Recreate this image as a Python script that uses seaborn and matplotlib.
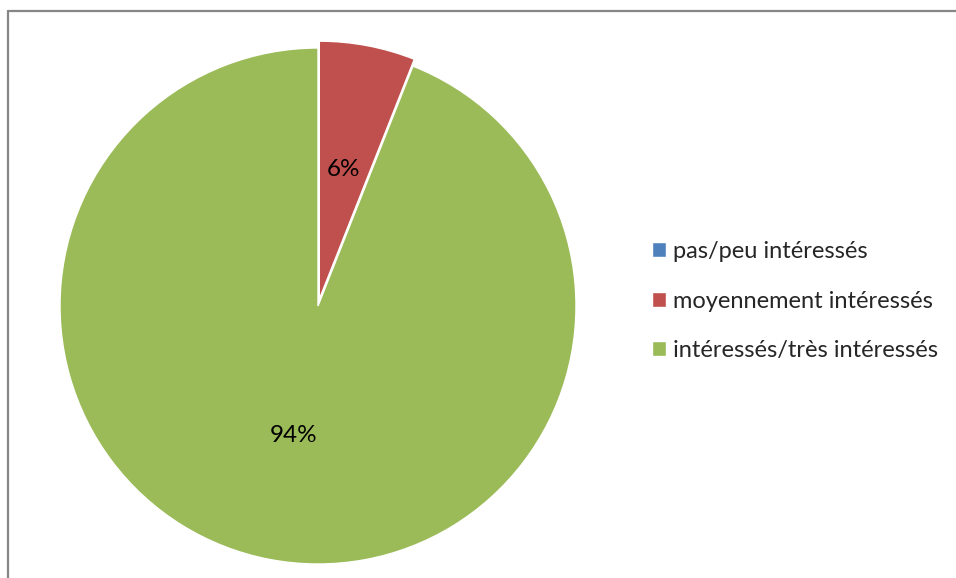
"""Pie chart: interest level of respondents (Excel-style)."""

import matplotlib.pyplot as plt
from matplotlib.lines import Line2D
import seaborn as sns

# ── Data ──────────────────────────────────────────────────────────────────────
CATEGORIES = ["pas/peu intéressés", "moyennement intéressés", "intéressés/très intéressés"]
SHARES = [0, 6, 94]
COLORS = ["#4F81BD", "#C0504D", "#9BBB59"]
EXPLODE = [0, 0.027, 0]

sns.set_theme(style="white")
plt.rcParams["font.family"] = ["Lato", "DejaVu Sans"]

fig = plt.figure(figsize=(9.56, 5.78), dpi=100)

# pie radius 258 px, centred at (318, 306) px from the top-left corner
W, H = 956, 578
cx, cy, r = 318, 306, 258
lim = 1.1
half = r * lim
ax = fig.add_axes([(cx - half) / W, (H - cy - half) / H, 2 * half / W, 2 * half / H])

palette = sns.color_palette(COLORS)


def pct_label(p):
    return f"{p:.0f}%" if p > 0.5 else ""


wedges, texts, autotexts = ax.pie(
    SHARES,
    colors=palette,
    explode=EXPLODE,
    startangle=90,
    counterclock=False,
    autopct=pct_label,
    pctdistance=0.51,
    wedgeprops={"edgecolor": "white", "linewidth": 1.0},
    textprops={"fontsize": 17.5, "color": "#000000"},
)
ax.set_xlim(-lim, lim)
ax.set_ylim(-lim, lim)
ax.set_aspect("equal")
ax.axis("off")

fig.legend(
    wedges,
    CATEGORIES,
    loc="center left",
    bbox_to_anchor=(0.66, 0.479),
    frameon=False,
    fontsize=17,
    handlelength=0.6,
    handleheight=0.6,
    handletextpad=0.3,
    labelspacing=1.2,
)

# ── Chart-area border (only top and left edges visible) ──────────────────────
border = "#868686"
fig.add_artist(Line2D([8 / W, 8 / W], [0, 1 - 11 / H], color=border, linewidth=1.6,
                      transform=fig.transFigure))
fig.add_artist(Line2D([8 / W, 1], [1 - 11 / H, 1 - 11 / H], color=border, linewidth=1.6,
                      transform=fig.transFigure))

fig.savefig("out.png", dpi=100)
